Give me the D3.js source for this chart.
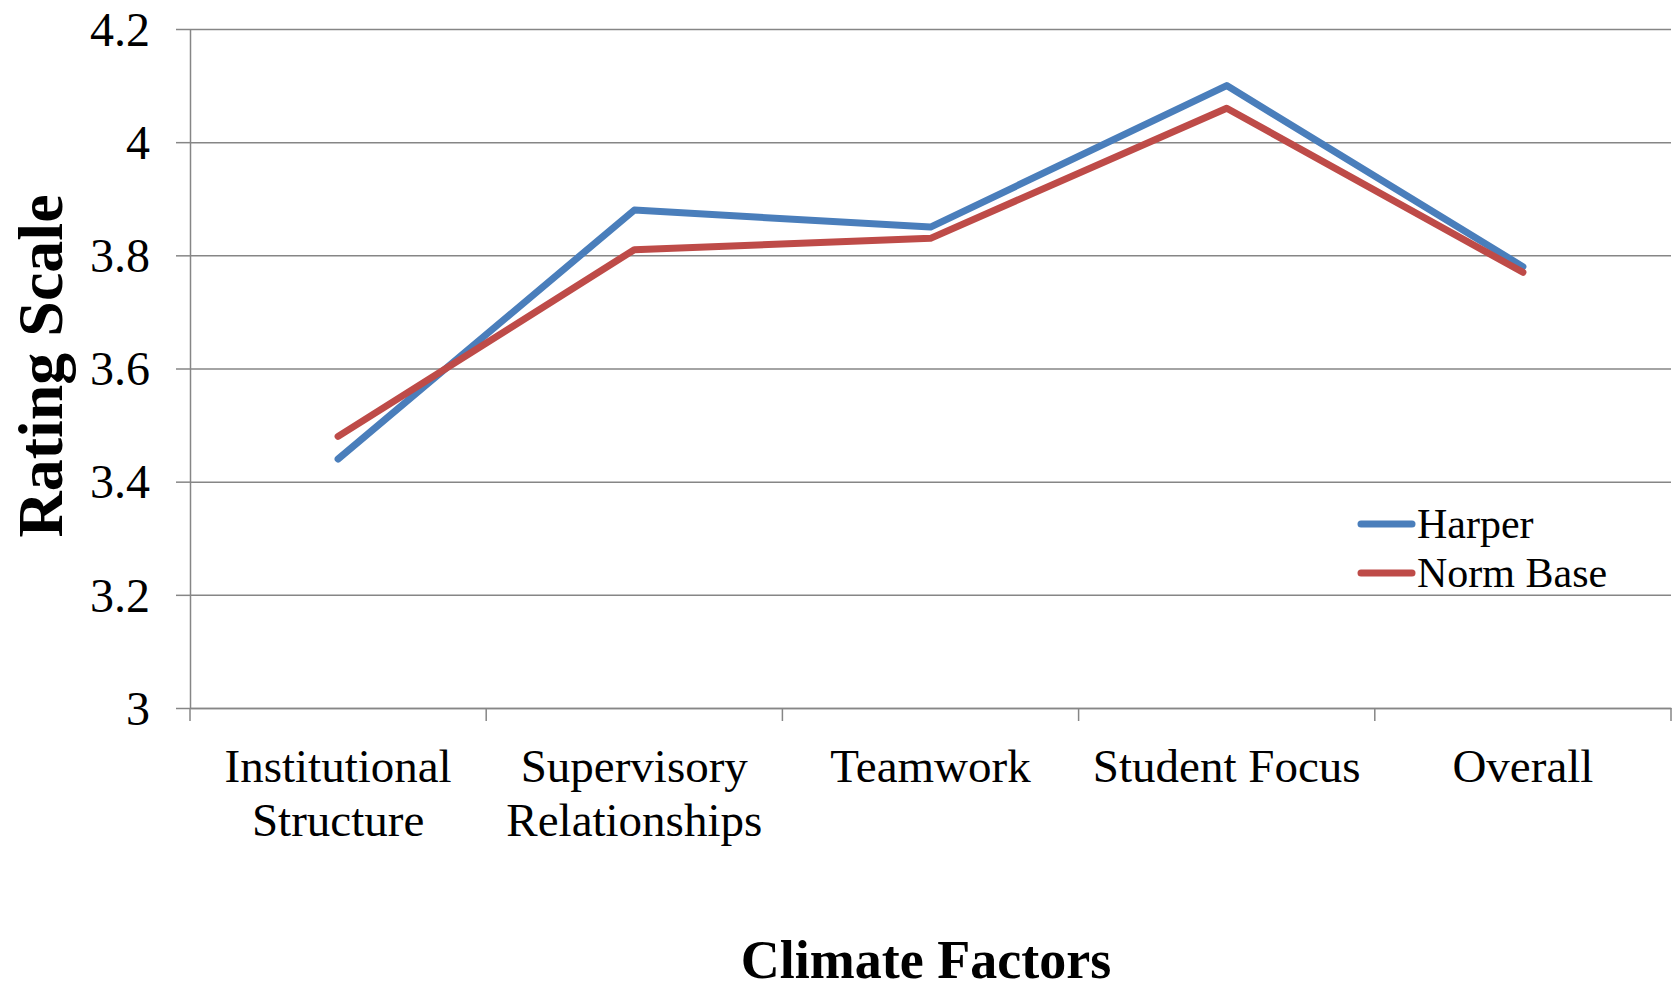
<!DOCTYPE html>
<html>
<head>
<meta charset="utf-8">
<script src="https://cdn.jsdelivr.net/npm/d3@7"></script>
<style>
	body { margin: 0; background: #fff; }
	svg text { font-family: "Liberation Serif", "Times New Roman", serif; fill: #000; }
</style>
</head>
<body>
<div id="svg-container"></div>
<script>

// DATA
const categories = [
	["Institutional", "Structure"],
	["Supervisory", "Relationships"],
	["Teamwork"],
	["Student Focus"],
	["Overall"]
];
const harper = [3.44, 3.88, 3.85, 4.10, 3.78];
const normBase = [3.48, 3.81, 3.83, 4.06, 3.77];
const yTicks = [3, 3.2, 3.4, 3.6, 3.8, 4, 4.2];
const seriesNames = ["Harper", "Norm Base"];
const seriesColors = ["#4A7EBB", "#BE4B48"];


// graph dimension
const w = 1674;
const h = 990;
const padTop = 29;
const padBottom = 282;
const padLeft = 190;
const padRight = 3;


// scales
const keys = categories.map(c => c.join(" "));
const xScale = d3.scaleBand()
	.domain(keys)
	.range([padLeft, w - padRight])
	.paddingInner(0)
	.paddingOuter(0);
const yScale = d3.scaleLinear()
	.domain([3, 4.2])
	.range([h - padBottom, padTop]);


// svg
const svg = d3.select("#svg-container")
	.append("svg")
	.attr("width", w)
	.attr("height", h);


// gridlines
const grid = svg.append("g")
	.attr("transform", `translate(${padLeft}, 0)`)
	.call(d3.axisLeft(yScale)
		.tickValues(yTicks)
		.tickSize(-(w - padRight - padLeft))
		.tickFormat(""));
grid.select(".domain").remove();
grid.selectAll("line")
	.attr("stroke", "#868686")
	.attr("stroke-width", 1.5);


// y-axis
const yAxis = svg.append("g")
	.attr("transform", `translate(${padLeft}, 0)`)
	.call(d3.axisLeft(yScale)
		.tickValues(yTicks)
		.tickSize(14)
		.tickSizeOuter(0)
		.tickPadding(26)
		.tickFormat(d => String(+d.toFixed(1))));
yAxis.select(".domain").attr("stroke", "#868686").attr("stroke-width", 1.5);
yAxis.selectAll("line").attr("stroke", "#868686").attr("stroke-width", 1.5);
yAxis.selectAll("text")
	.style("font-size", "48px")
	.attr("dy", "0.34em");


// x-axis (labels)
const xAxis = svg.append("g")
	.attr("transform", `translate(0, ${h - padBottom})`)
	.call(d3.axisBottom(xScale).tickSize(0).tickFormat(""));
xAxis.select(".domain").attr("stroke", "#868686").attr("stroke-width", 1.5);
xAxis.selectAll(".tick text").remove();
xAxis.selectAll(".tick").each(function(d, i) {
	const t = d3.select(this).append("text")
		.attr("text-anchor", "middle")
		.style("font-size", "47px");
	categories[i].forEach((line, j) => {
		t.append("tspan")
			.attr("x", 0)
			.attr("y", 74 + j * 54)
			.text(line);
	});
});

// x-axis boundary ticks
const bounds = keys.map(k => xScale(k)).concat([xScale(keys[keys.length - 1]) + xScale.bandwidth()]);
svg.append("g")
	.selectAll("line")
	.data(bounds)
	.enter()
	.append("line")
	.attr("x1", d => d)
	.attr("x2", d => d)
	.attr("y1", h - padBottom)
	.attr("y2", h - padBottom + 13)
	.attr("stroke", "#868686")
	.attr("stroke-width", 1.5);


// axis titles
svg.append("text")
	.text("Rating Scale")
	.attr("text-anchor", "middle")
	.attr("transform", `translate(62, 366) rotate(-90)`)
	.style("font-size", "64px")
	.style("font-weight", "bold");
svg.append("text")
	.text("Climate Factors")
	.attr("text-anchor", "middle")
	.attr("x", 926)
	.attr("y", 978)
	.style("font-size", "54px")
	.style("font-weight", "bold");


// lines
const line = d3.line()
	.x((d, i) => xScale(keys[i]) + xScale.bandwidth() / 2)
	.y(d => yScale(d));
[harper, normBase].forEach((s, i) => {
	svg.append("path")
		.datum(s)
		.attr("d", line)
		.attr("fill", "none")
		.attr("stroke", seriesColors[i])
		.attr("stroke-width", 7)
		.attr("stroke-linecap", "round")
		.attr("stroke-linejoin", "round");
});


// legend
const legend = svg.append("g")
	.selectAll("g")
	.data(seriesNames)
	.enter()
	.append("g")
	.attr("transform", (d, i) => `translate(1361, ${524 + i * 49})`);
legend.append("line")
	.attr("x1", 0)
	.attr("x2", 51)
	.attr("stroke", (d, i) => seriesColors[i])
	.attr("stroke-width", 7)
	.attr("stroke-linecap", "round");
legend.append("text")
	.text(d => d)
	.attr("x", 56)
	.attr("dy", "0.34em")
	.style("font-size", "42px");

</script>
</body>
</html>
